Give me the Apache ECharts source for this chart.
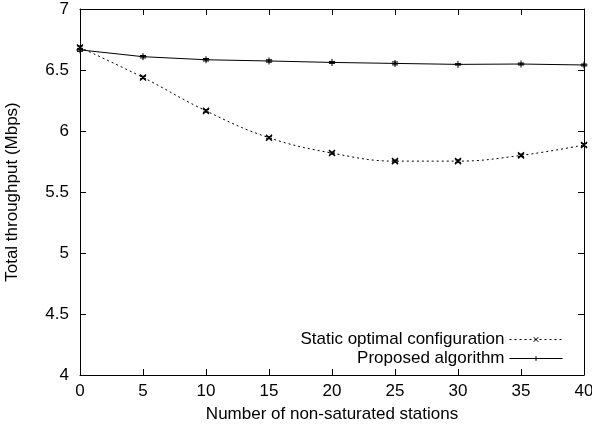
<!DOCTYPE html>
<html>
<head>
<meta charset="utf-8">
<script src="https://cdn.jsdelivr.net/npm/echarts@6/dist/echarts.min.js"></script>
<style>html,body{margin:0;padding:0;background:#fff}#c{width:592px;height:426px}</style>
</head>
<body>
<div id="c"></div>
<script>
var stations = [0, 5, 10, 15, 20, 25, 30, 35, 40];
var staticValues = [6.685, 6.439, 6.165, 5.945, 5.819, 5.753, 5.753, 5.800, 5.885];
var staticErr = [0.012, 0.010, 0.010, 0.008, 0.008, 0.008, 0.010, 0.010, 0.012];
var proposedValues = [6.665, 6.609, 6.584, 6.574, 6.562, 6.554, 6.546, 6.549, 6.541];
var proposedErr = [0.012, 0.010, 0.010, 0.010, 0.008, 0.012, 0.006, 0.008, 0.008];
var xTicks = ['0','5','10','15','20','25','30','35','40'];
var yTicks = ['4','4.5','5','5.5','6','6.5','7'];

var FONT = '"Liberation Sans", Arial, sans-serif';
var FS = 17;
function pairs(xs, ys) { return xs.map(function (x, i) { return [x, ys[i]]; }); }
function errData(xs, ys, es) { return xs.map(function (x, i) { return [x, ys[i] - es[i], ys[i] + es[i]]; }); }
function errRender(params, api) {
  var lo = api.coord([api.value(0), api.value(1)]);
  var hi = api.coord([api.value(0), api.value(2)]);
  var w = 3;
  var st = { stroke: '#000', lineWidth: 1 };
  return { type: 'group', children: [
    { type: 'line', shape: { x1: lo[0], y1: lo[1], x2: hi[0], y2: hi[1] }, style: st },
    { type: 'line', shape: { x1: lo[0] - w, y1: lo[1], x2: lo[0] + w, y2: lo[1] }, style: st },
    { type: 'line', shape: { x1: hi[0] - w, y1: hi[1], x2: hi[0] + w, y2: hi[1] }, style: st }
  ]};
}
var crossSym = 'path://M0,0L10,10M10,0L0,10';
var plusSym = 'path://M5,0L5,10M0,5L10,5';

var chart = echarts.init(document.getElementById('c'));
var axisCommon = {
  axisLine: { show: true, onZero: false, lineStyle: { color: '#000', width: 1 } },
  splitLine: { show: false }
};
var legendCommon = {
  align: 'right', itemWidth: 53, itemHeight: 6, padding: 0,
  textStyle: { fontFamily: FONT, fontSize: FS, color: '#000' },
  lineStyle: { width: 1 },
  itemStyle: { borderWidth: 1 }
};
chart.setOption({
  animation: false,
  backgroundColor: '#fff',
  textStyle: { fontFamily: FONT, color: '#000' },
  grid: { left: 80, right: 8, top: 9, bottom: 51, containLabel: false, outerBoundsMode: 'none' },
  legend: [
    Object.assign({}, legendCommon, { data: ['Static optimal configuration'], right: 29, top: 331 }),
    Object.assign({}, legendCommon, { data: ['Proposed algorithm'], right: 29, top: 350 })
  ],
  xAxis: [
    Object.assign({}, axisCommon, {
      type: 'value', min: 0, max: 40, interval: 5, position: 'bottom',
      name: 'Number of non-saturated stations', nameLocation: 'middle', nameGap: 31,
      nameTextStyle: { fontFamily: FONT, fontSize: FS, color: '#000' },
      axisTick: { show: true, inside: true, length: 6, lineStyle: { color: '#000' } },
      axisLabel: { fontFamily: FONT, fontSize: FS, color: '#000', margin: 8,
        formatter: function (v) { return xTicks[Math.round(v / 5)]; } }
    }),
    Object.assign({}, axisCommon, {
      type: 'value', min: 0, max: 40, interval: 5, position: 'top',
      axisTick: { show: true, inside: true, length: 6, lineStyle: { color: '#000' } },
      axisLabel: { show: false }
    })
  ],
  yAxis: [
    Object.assign({}, axisCommon, {
      type: 'value', min: 4, max: 7, interval: 0.5, position: 'left',
      name: 'Total throughput (Mbps)', nameLocation: 'middle', nameGap: 59,
      nameTextStyle: { fontFamily: FONT, fontSize: FS, color: '#000' },
      axisTick: { show: true, inside: true, length: 6, lineStyle: { color: '#000' } },
      axisLabel: { fontFamily: FONT, fontSize: FS, color: '#000', margin: 11,
        formatter: function (v) { return yTicks[Math.round((v - 4) / 0.5)]; } }
    }),
    Object.assign({}, axisCommon, {
      type: 'value', min: 4, max: 7, interval: 0.5, position: 'right',
      axisTick: { show: true, inside: true, length: 6, lineStyle: { color: '#000' } },
      axisLabel: { show: false }
    })
  ],
  series: [
    { name: 'Static optimal configuration', type: 'line', smooth: 0.4, data: pairs(stations, staticValues),
      symbol: crossSym, symbolSize: 6, showSymbol: true,
      lineStyle: { color: '#000', width: 1, type: [2, 3] },
      itemStyle: { color: '#000', borderColor: '#000', borderWidth: 1.5 }, z: 3 },
    { name: 'Proposed algorithm', type: 'line', smooth: false, data: pairs(stations, proposedValues),
      symbol: plusSym, symbolSize: 7, showSymbol: true,
      lineStyle: { color: '#000', width: 1, type: 'solid' },
      itemStyle: { color: '#000', borderColor: '#000', borderWidth: 1 }, z: 3 },
    { type: 'custom', renderItem: errRender, data: errData(stations, staticValues, staticErr),
      encode: { x: 0, y: [1, 2] }, z: 4, silent: true },
    { type: 'custom', renderItem: errRender, data: errData(stations, proposedValues, proposedErr),
      encode: { x: 0, y: [1, 2] }, z: 4, silent: true }
  ]
});
</script>
</body>
</html>
